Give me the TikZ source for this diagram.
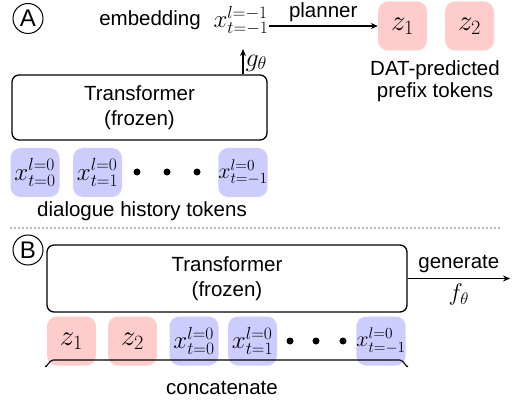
\RequirePackage{fix-cm}
\documentclass[tikz,border=0pt]{standalone}
\usepackage{fontspec}
\setmainfont{Liberation Sans}
\usetikzlibrary{arrows.meta}
\definecolor{pinkfill}{HTML}{FFCCCC}
\definecolor{bluefill}{HTML}{CCCCFF}
\begin{document}
\begin{tikzpicture}[x=1pt,y=-1pt,
  every node/.style={font=\fontsize{20.5}{24}\selectfont, inner sep=0pt},
  tfbox/.style={draw, line width=1.3pt, rounded corners=7pt, align=center},
  ztok/.style={fill=pinkfill, rounded corners=10pt, minimum width=49pt, minimum height=49pt, font=\fontsize{29}{32}\selectfont},
  xtok/.style={fill=bluefill, rounded corners=10pt, minimum width=49pt, minimum height=49pt, font=\fontsize{25}{28}\selectfont},
  xlast/.style={xtok, font=\fontsize{22}{25}\selectfont},
  dotn/.style={circle, fill=black, minimum size=7pt},
  lbl/.style={circle, draw, line width=1pt, minimum size=30pt, font=\fontsize{24}{26}\selectfont},
  conn/.style={line width=1.1pt, -{Stealth[length=7pt,width=6pt]}},
  mathlbl/.style={font=\fontsize{25}{28}\selectfont},
]
\useasboundingbox (0,0) rectangle (512,401);
% ---- Part A
\node[lbl] (A) at (28,18.5) {A};
\node (emb) at (150,20) {embedding};
\node[mathlbl] (xemb) at (241,21) {$x^{l=-1}_{t=-1}$};
\node[ztok] (za1) at (402.5,26) {$z_1$};
\node[ztok] (za2) at (469.5,26) {$z_2$};
\node (dat1) at (435,70) {DAT-predicted};
\node (dat2) at (435,92) {prefix tokens};
\draw[conn] (xemb.east |- za1.west) -- node[above=4pt] {planner} (za1.west);
\node[tfbox, minimum width=255pt, minimum height=65pt] (tA) at (139.5,107.5) {Transformer\\[1pt](frozen)};
\coordinate (gtip) at (243,49);
\draw[conn] (gtip |- tA.north) -- node[right=2pt, pos=0.45, font=\fontsize{26}{28}\selectfont] {$g_\theta$} (gtip);
\node[xtok] (xa0) at (35,172.5) {$x^{l=0}_{t=0}$};
\node[xtok] (xa1) at (97.5,172.5) {$x^{l=0}_{t=1}$};
\node[dotn] (da1) at (137,172) {};
\node[dotn] (da2) at (167,172) {};
\node[dotn] (da3) at (197,172) {};
\node[xlast] (xa2) at (243,172.5) {$x^{l=0}_{t=-1}$};
\node (dht) at (142,211) {dialogue history tokens};
% separator
\coordinate (sepL) at (10,228);
\coordinate (sepR) at (500,228);
\draw[gray!55, dotted, line width=2pt] (sepL) -- (sepR);
% ---- Part B
\node[lbl] (B) at (28,250) {B};
\node[tfbox, minimum width=360pt, minimum height=67pt] (tB) at (227,278.5) {Transformer\\[1pt](frozen)};
\coordinate (gen) at (510,278.5);
\draw[conn] (tB.east) -- node[above=5pt] {generate} node[below=5pt, font=\fontsize{24}{26}\selectfont] {$f_\theta$} (gen);
\node[ztok] (zb1) at (71.5,341) {$z_1$};
\node[ztok] (zb2) at (132.5,341) {$z_2$};
\node[xtok] (xb0) at (194,341) {$x^{l=0}_{t=0}$};
\node[xtok] (xb1) at (252.5,341) {$x^{l=0}_{t=1}$};
\node[dotn] (db1) at (290,341) {};
\node[dotn] (db2) at (316,341) {};
\node[dotn] (db3) at (343,341) {};
\node[xlast] (xb2) at (381,341) {$x^{l=0}_{t=-1}$};
\coordinate (brL) at (45,366);
\coordinate (brR) at (408,366);
\draw[line width=1.1pt] (brL) to[out=-80,in=180] ([xshift=8pt,yshift=6pt]brL) -- ([xshift=-8pt,yshift=6pt]brR) to[out=0,in=-100] (brR);
\node (cat) at (222,388) {concatenate};
\end{tikzpicture}
\end{document}
